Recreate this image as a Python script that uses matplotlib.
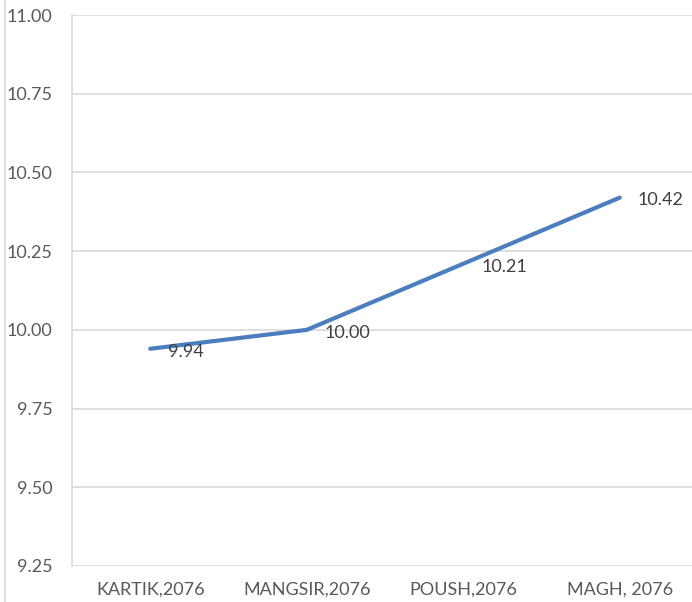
import matplotlib
matplotlib.use("Agg")
import matplotlib.pyplot as plt
from matplotlib.lines import Line2D

categories = ["KARTIK,2076", "MANGSIR,2076", "POUSH,2076", "MAGH, 2076"]
values = [9.94, 10.00, 10.21, 10.42]
yticks = [9.25, 9.50, 9.75, 10.00, 10.25, 10.50, 10.75, 11.00]

plt.rcParams['font.family'] = ['Lato', 'DejaVu Sans']

fig = plt.figure(figsize=(6.92, 6.02), dpi=100)
W, H = 692, 602
left, right, top, bottom = 72, 698, 15, 566
ax = fig.add_axes([left / W, (H - bottom) / H, (right - left) / W, (bottom - top) / H])

x = list(range(len(categories)))
ax.plot(x, values, color="#4A7EBF", lw=3.0, solid_capstyle="round", zorder=3)
for xi, v in zip(x, values):
    ax.annotate(f"{v:.2f}", (xi, v), xytext=(13, -2), textcoords="offset points",
                ha="left", va="center", fontsize=13, color="#404040")

ax.set_xlim(-0.5, len(categories) - 0.5)
ax.set_ylim(9.25, 11.00)
ax.set_yticks(yticks)
ax.set_yticklabels([f"{t:.2f}" for t in yticks])
ax.set_xticks(x)
ax.set_xticklabels(categories)
ax.tick_params(axis="y", length=0, pad=14, labelsize=13, labelcolor="#595959")
ax.tick_params(axis="x", length=0, pad=11, labelsize=13, labelcolor="#595959")
ax.grid(axis="y", color="#D9D9D9", lw=1.2)
ax.set_axisbelow(True)
for s in ["top", "right", "bottom"]:
    ax.spines[s].set_visible(False)
ax.spines["left"].set_color("#D9D9D9")
ax.spines["left"].set_linewidth(1.2)

fig.add_artist(Line2D([5 / W, 5 / W], [0, 1], color="#D9D9D9", lw=1.2, transform=fig.transFigure))

fig.savefig("out.png", dpi=100)
